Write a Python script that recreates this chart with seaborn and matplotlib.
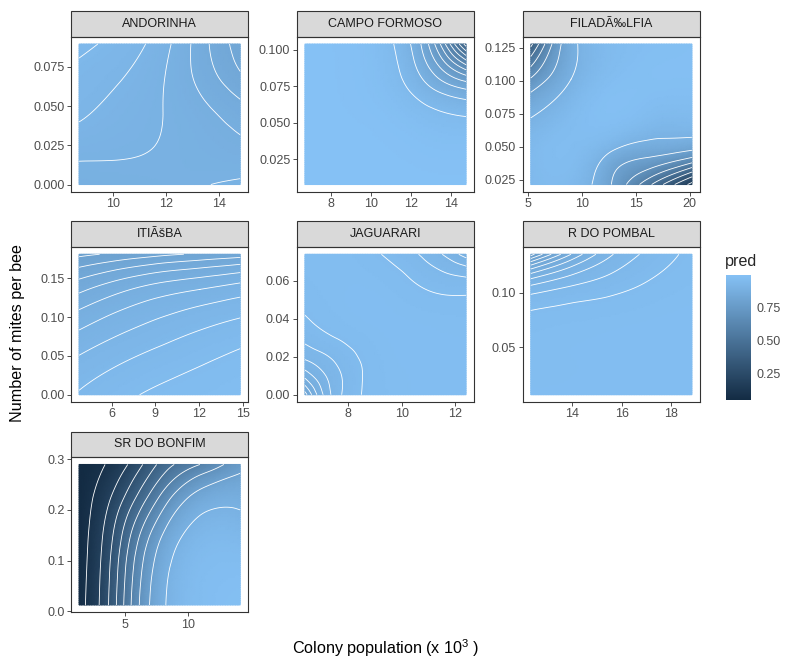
import numpy as np
import pandas as pd
import seaborn as sns
import matplotlib
matplotlib.use("Agg")
import matplotlib.pyplot as plt
import matplotlib.tri as mtri
from matplotlib.patches import Rectangle
from matplotlib.colors import Normalize
from matplotlib.cm import ScalarMappable

# facets (labels kept as they appear, encoding glitch included)
sites = ["ANDORINHA", "CAMPO FORMOSO", "FILADÃ‰LFIA", "ITIÃšBA",
         "JAGUARARI", "R DO POMBAL", "SR DO BONFIM"]

# extent of the predicted surface per site (colony population x 10^3, mites per bee)
x_range = [(8.73, 14.78), (6.71, 14.77), (5.25, 20.2), (3.77, 14.82),
           (6.38, 12.41), (12.33, 18.84), (1.39, 14.13)]
y_range = [(0.0, 0.0895), (0.0078, 0.104), (0.0212, 0.128), (0.0, 0.181),
           (0.0, 0.0739), (0.0065, 0.135), (0.0125, 0.2895)]

# pred on a 5x5 grid: rows = mites (low -> high), cols = population (low -> high)
pred_andorinha = [[.890, .893, .896, .899, .903],
                  [.906, .903, .899, .893, .886],
                  [.923, .912, .901, .887, .870],
                  [.933, .921, .903, .875, .845],
                  [.945, .933, .910, .870, .830]]
pred_campo = [[.999, .999, .999, .998, .998],
              [.999, .999, .997, .991, .988],
              [.999, .997, .989, .965, .945],
              [.999, .995, .975, .891, .782],
              [.999, .994, .965, .819, .426]]
pred_filadelfia = [[.950, .950, .800, .500, .170],
                   [.950, .970, .910, .850, .810],
                   [.890, .960, .985, .965, .960],
                   [.710, .900, .975, .985, .985],
                   [.370, .870, .960, .980, .985]]
pred_itiuba = [[.942, .955, .964, .970, .975],
               [.923, .937, .948, .957, .965],
               [.895, .912, .925, .936, .945],
               [.855, .875, .890, .900, .910],
               [.795, .805, .815, .823, .830]]
pred_jaguarari = [[.830, .945, .970, .975, .975],
                  [.920, .950, .972, .975, .975],
                  [.955, .970, .975, .974, .972],
                  [.968, .974, .972, .960, .955],
                  [.972, .972, .958, .935, .890]]
pred_pombal = [[.975, .975, .976, .976, .976],
               [.972, .974, .975, .976, .976],
               [.968, .971, .973, .975, .976],
               [.930, .945, .955, .965, .972],
               [.770, .860, .918, .947, .965]]
pred_bonfim = [[.070, .440, .870, .970, .985],
               [.065, .420, .850, .965, .975],
               [.060, .370, .780, .935, .940],
               [.055, .270, .620, .850, .880],
               [.045, .155, .420, .600, .760]]
pred_grids = [pred_andorinha, pred_campo, pred_filadelfia, pred_itiuba,
              pred_jaguarari, pred_pombal, pred_bonfim]

contour_step = [0.02, 0.05, 0.1, 0.02, 0.02, 0.02, 0.1]

x_ticks = [[10, 12, 14], [8, 10, 12, 14], [5, 10, 15, 20], [6, 9, 12, 15],
           [8, 10, 12], [14, 16, 18], [5, 10]]
y_ticks = [[0, 0.025, 0.05, 0.075], [0.025, 0.05, 0.075, 0.1],
           [0.025, 0.05, 0.075, 0.1, 0.125], [0, 0.05, 0.1, 0.15],
           [0, 0.02, 0.04, 0.06], [0.05, 0.1], [0, 0.1, 0.2, 0.3]]
y_decimals = [3, 3, 3, 2, 2, 2, 1]

legend_ticks = [0.25, 0.50, 0.75]

# long table for FacetGrid
rows = []
for s, xr, yr, grid in zip(sites, x_range, y_range, pred_grids):
    g = np.array(grid)
    xs = np.linspace(xr[0], xr[1], g.shape[1])
    ys = np.linspace(yr[0], yr[1], g.shape[0])
    for j, yv in enumerate(ys):
        for i, xv in enumerate(xs):
            rows.append({"site": s, "x": xv, "y": yv, "pred": g[j, i]})
df = pd.DataFrame(rows)

sns.set_theme(style="ticks", rc={
    "axes.edgecolor": "#333333", "axes.linewidth": 0.8,
    "xtick.color": "#333333", "ytick.color": "#333333",
    "xtick.labelcolor": "#4D4D4D", "ytick.labelcolor": "#4D4D4D",
    "xtick.labelsize": 9, "ytick.labelsize": 9,
    "xtick.major.size": 2.7, "ytick.major.size": 2.7,
    "xtick.major.width": 0.6, "ytick.major.width": 0.6,
    "xtick.major.pad": 2, "ytick.major.pad": 2,
})
plt.rcParams["font.family"] = ["Liberation Sans", "DejaVu Sans"]
plt.rcParams["mathtext.default"] = "regular"

cmap = sns.blend_palette(["#132B43", "#85C1F5"], as_cmap=True)
norm = Normalize(vmin=0.05, vmax=1.0)


def draw_surface(*args, data=None, **kwargs):
    ax = plt.gca()
    k = sites.index(data["site"].iloc[0])
    x0, x1 = x_range[k]
    y0, y1 = y_range[k]
    tab = data.pivot(index="y", columns="x", values="pred").sort_index()
    p = np.clip(tab.values, 0.001, 0.999)
    nv, nu = p.shape
    u = (tab.columns.values - x0) / (x1 - x0)
    v = (tab.index.values - y0) / (y1 - y0)
    uu, vv = np.meshgrid(u, v)
    tris = []
    for j in range(nv - 1):
        for i in range(nu - 1):
            a = j * nu + i
            tris.append([a, a + 1, a + nu + 1])
            tris.append([a, a + nu + 1, a + nu])
    tri = mtri.Triangulation(uu.ravel(), vv.ravel(), np.array(tris))
    # smooth the read grid in logit space, then back to probability
    lz = np.log(p / (1 - p)).ravel()
    interp = mtri.CubicTriInterpolator(tri, lz, kind="min_E")
    rt, rz = mtri.UniformTriRefiner(tri).refine_field(lz, triinterpolator=interp, subdiv=4)
    pf = 1 / (1 + np.exp(-rz))
    xf = x0 + rt.x * (x1 - x0)
    yf = y0 + rt.y * (y1 - y0)
    ax.tripcolor(xf, yf, rt.triangles, pf, shading="gouraud", cmap=cmap, norm=norm)
    step = contour_step[k]
    lv = np.round(np.arange(step, 1.0, step), 3)
    lv = lv[(lv > pf.min()) & (lv < pf.max())]
    ax.tricontour(xf, yf, rt.triangles, pf, levels=lv, colors="white", linewidths=0.6)
    ax.set_xlim(x0 - 0.05 * (x1 - x0), x1 + 0.05 * (x1 - x0))
    ax.set_ylim(y0 - 0.05 * (y1 - y0), y1 + 0.05 * (y1 - y0))
    ax.set_xticks(x_ticks[k])
    ax.set_xticklabels([f"{t:g}" for t in x_ticks[k]])
    ax.set_yticks(y_ticks[k])
    ax.set_yticklabels([f"{t:.{y_decimals[k]}f}" for t in y_ticks[k]])


g = sns.FacetGrid(df, col="site", col_order=sites, col_wrap=3, sharex=False,
                  sharey=False, despine=False, height=2.2, aspect=1.0)
g.map_dataframe(draw_surface, "x", "y", "pred")
g.set_axis_labels("", "")

fig = g.figure
fig.set_size_inches(7.86, 6.6)
W, H = 786, 660
fig.subplots_adjust(left=71 / W, right=700 / W, top=1 - 37 / H, bottom=1 - 612 / H,
                    wspace=0.274, hspace=0.36)

strip_h = 26 / 155
for ax, s in zip(g.axes.flat, sites):
    ax.set_title("")
    ax.add_patch(Rectangle((0, 1), 1, strip_h, transform=ax.transAxes, clip_on=False,
                           facecolor="#D9D9D9", edgecolor="#333333", linewidth=0.8))
    ax.text(0.5, 1 + strip_h / 2, s, transform=ax.transAxes, ha="center", va="center",
            fontsize=9, color="#1A1A1A")

fig.text(385.5 / W, 1 - 648 / H, "Colony population (x 10$^3$ )", ha="center",
         va="center", fontsize=11.6, color="black")
fig.text(18 / W, 1 - 333 / H, "Number of mites per bee", ha="center", va="center",
         rotation=90, fontsize=11.6, color="black")

# colour bar legend
cax = fig.add_axes([726 / W, 1 - 400 / H, 25 / W, 125 / H])
cb = fig.colorbar(ScalarMappable(norm=norm, cmap=cmap), cax=cax)
cb.outline.set_visible(False)
cb.set_ticks(legend_ticks)
cb.set_ticklabels([f"{t:.2f}" for t in legend_ticks])
cax.yaxis.set_ticks_position("both")
cax.tick_params(direction="in", color="white", length=4.5, width=0.8,
                labelleft=False, labelright=True, labelsize=9,
                labelcolor="#4D4D4D", pad=4)
fig.text(725 / W, 1 - 261 / H, "pred", ha="left", va="center", fontsize=11.6)

fig.savefig("out.png", dpi=100, facecolor="white")
